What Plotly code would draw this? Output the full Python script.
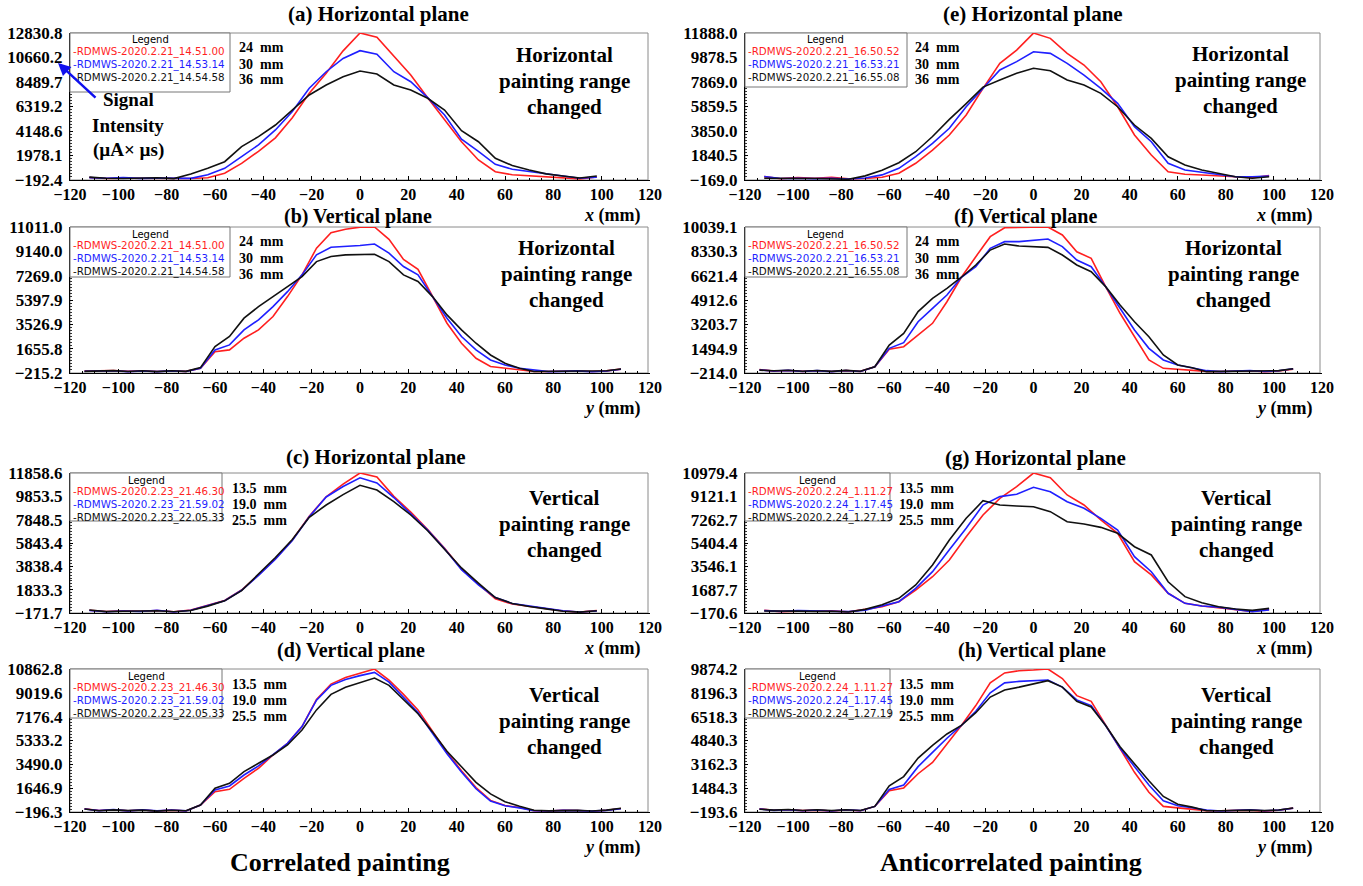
import plotly.graph_objects as go

W, H = 1363, 886

# ---------------- data ----------------
X_H = [-112, -105, -98, -91, -84, -77, -70, -63, -56, -49, -42, -35, -28, -21, -14, -7, 0,
       7, 14, 21, 28, 35, 42, 49, 56, 63, 70, 77, 84, 91, 98]
Y_V = [-114, -108, -102, -96, -90, -84, -78, -72, -66, -60, -54, -48, -42, -36, -30, -24, -18, -12, -6, 0,
       6, 12, 18, 24, 30, 36, 42, 48, 54, 60, 66, 72, 78, 84, 90, 96, 102, 108]

A_RED = [30, -60, -40, -60, -20, -70, -60, 10, 400, 1285, 2350, 3545, 5320, 7490, 9270, 11250, 12830,
         12450, 10750, 9110, 7100, 5100, 3200, 1580, 545, 270, 190, 110, 0, -90, 75]
A_BLUE = [20, -40, 20, -50, -30, -50, -50, 270, 845, 1880, 2920, 4240, 5880, 7940, 9400, 10580, 11263,
          10945, 9400, 8515, 7100, 5566, 3420, 2350, 1200, 757, 545, 370, 135, -30, 50]
A_BLACK = [60, -40, -60, -20, 10, -70, 340, 840, 1430, 2760, 3650, 4680, 6010, 7340, 8225, 8960, 9465,
           9200, 8225, 7780, 7050, 6010, 4175, 3200, 1735, 1085, 700, 350, 160, -20, 160]

B_RED = [-60, -50, -20, -90, -50, -100, -60, -90, 146, 1423, 1560, 2460, 3100, 4125, 5660, 7330, 9380, 10580, 10840, 11000,
         11011, 10060, 8520, 7750, 5660, 3610, 2075, 920, 280, 146, 15, -100, -100, -80, -60, -100, -50, 80]
B_BLUE = [-80, -70, -40, -110, -60, -110, -50, -100, 146, 1560, 1945, 3100, 3870, 4890, 6040, 7330, 8870, 9460, 9510, 9590,
          9700, 9000, 7970, 7330, 5660, 4000, 2590, 1560, 790, 405, 146, 15, -110, -90, -50, -120, -60, 70]
B_BLACK = [-90, -80, -30, -100, -40, -110, -40, -90, 200, 1815, 2590, 4000, 4890, 5660, 6430, 7200, 8350, 8740, 8870, 8870,
           8920, 8350, 7330, 6820, 5660, 4250, 3100, 2075, 1170, 530, 146, -100, -90, -70, -50, -90, -40, 90]

C_RED = [60, -40, 20, -20, 40, -60, 85, 500, 900, 1800, 3100, 4500, 6100, 8150, 9820, 10900, 11858,
         11510, 9850, 8500, 7000, 5400, 3600, 2300, 1050, 600, 400, 200, 0, -100, 30]
C_BLUE = [40, -60, 0, -40, 60, -80, 60, 470, 880, 1780, 3050, 4450, 6050, 8100, 9800, 10700, 11450,
          11000, 9750, 8350, 6950, 5350, 3550, 2250, 1150, 650, 420, 220, 20, -80, 0]
C_BLACK = [80, -50, -20, -30, 20, -60, 40, 420, 870, 1750, 3150, 4600, 6150, 8050, 9110, 10000, 10800,
           10400, 9400, 8250, 6900, 5300, 3700, 2400, 1150, 650, 380, 180, -20, -100, 20]

D_RED = [60, -80, -20, -100, -40, -120, -50, -120, 345, 1374, 1560, 2410, 3185, 4210, 5115, 6410, 8500, 9700, 10200, 10550,
         10862, 10000, 8900, 7700, 6000, 4400, 3000, 1700, 700, 300, 150, -100, -130, -60, -80, -140, -60, 80]
D_BLUE = [40, -90, -10, -110, -30, -110, -40, -110, 345, 1505, 1815, 2665, 3365, 4210, 5115, 6410, 8450, 9600, 10050, 10350,
          10600, 9850, 8700, 7500, 5900, 4300, 2900, 1600, 650, 280, 120, -100, -120, -70, -90, -130, -70, 60]
D_BLACK = [30, -100, -30, -90, -50, -130, -60, -100, 345, 1637, 2025, 2925, 3570, 4210, 4985, 6145, 7700, 8900, 9450, 9780,
           10160, 9600, 8500, 7400, 6000, 4500, 3300, 2100, 1200, 600, 250, -60, -110, -80, -70, -120, -50, 100]

E_RED = [110, -60, 30, -20, 50, -80, -40, 60, 380, 1200, 2290, 3520, 5160, 7350, 9400, 10490, 11880,
         11450, 10220, 9260, 7890, 5840, 3520, 1880, 510, 300, 240, 190, 100, 20, 190]
E_BLUE = [120, -40, -20, -60, -30, -90, -10, 250, 790, 1740, 2840, 4070, 5840, 7350, 8860, 9540, 10350,
          10220, 9400, 8440, 7350, 6120, 4210, 2970, 1200, 650, 460, 320, 100, 100, 150]
E_BLACK = [-30, -60, -50, -40, -70, -110, 170, 640, 1250, 2150, 3400, 4800, 6100, 7450, 8030, 8580, 9000,
           8790, 8030, 7620, 6940, 5840, 4340, 3240, 1740, 1060, 650, 380, 100, -30, 100]

F_RED = [20, -80, -40, -100, -60, -110, -50, -100, 228, 1450, 1630, 2455, 3275, 4790, 6510, 7955, 9360, 9990, 9990, 10000,
         10039, 9480, 8300, 7840, 5850, 3980, 2335, 700, 115, 45, -25, -100, -110, -90, -60, -130, -70, 60]
F_BLUE = [0, -70, -30, -110, -50, -120, -40, -110, 228, 1520, 1915, 3390, 4330, 5265, 6510, 7250, 8540, 9010, 9010, 9130,
          9200, 8660, 7720, 7250, 5850, 4330, 2805, 1520, 700, 350, 160, -50, -120, -80, -40, -110, -60, 80]
F_BLACK = [-10, -60, -20, -90, -40, -100, -30, -90, 228, 1750, 2570, 4100, 5030, 5730, 6510, 7370, 8420, 8840, 8700, 8660,
           8610, 8070, 7370, 6900, 5850, 4560, 3390, 2335, 1050, 350, 160, -120, -110, -90, -60, -100, -50, 90]

G_RED = [40, -60, -30, -40, 0, -80, 100, 330, 730, 1660, 2720, 4050, 5900, 7635, 8960, 9890, 10979,
         10600, 9230, 8430, 7240, 6180, 3920, 2860, 1400, 600, 390, 250, 120, -40, 120]
G_BLUE = [20, -40, 30, 0, 20, -60, 60, 380, 730, 1790, 3120, 4870, 6580, 8430, 9100, 9280, 9840,
          9490, 8690, 8170, 7370, 6440, 4320, 3120, 1400, 600, 390, 300, 120, -60, 80]
G_BLACK = [-10, -40, -20, -40, -30, -90, 120, 480, 1000, 2060, 3650, 5640, 7370, 8770, 8430, 8350, 8290,
           7900, 7100, 6920, 6650, 6180, 5110, 4450, 2320, 1130, 650, 330, 150, 40, 200]

H_RED = [40, -70, -40, -100, -60, -120, -50, -110, 200, 1300, 1500, 2500, 3300, 4600, 5900, 7300, 8900, 9600, 9750, 9800,
         9874, 9200, 8000, 7600, 5900, 4200, 2600, 1200, 200, 100, 0, -100, -110, -90, -60, -130, -70, 80]
H_BLUE = [20, -80, -30, -110, -50, -120, -40, -100, 200, 1400, 1700, 3000, 4000, 5000, 5900, 6900, 8200, 8900, 9000, 9050,
          9100, 8600, 7700, 7300, 5900, 4300, 3000, 1700, 600, 250, 100, -60, -120, -80, -40, -110, -60, 70]
H_BLACK = [0, -60, -20, -90, -40, -100, -30, -90, 200, 1650, 2300, 3600, 4500, 5300, 5900, 6800, 7900, 8400, 8600, 8800,
           9050, 8600, 7600, 7200, 5900, 4400, 3200, 2000, 900, 350, 150, -110, -110, -90, -60, -100, -50, 90]

YT_A = [-192.4, 1978.1, 4148.6, 6319.2, 8489.7, 10660.2, 12830.8]
YT_B = [-215.2, 1655.8, 3526.9, 5397.9, 7269.0, 9140.0, 11011.0]
YT_C = [-171.7, 1833.3, 3838.4, 5843.4, 7848.5, 9853.5, 11858.6]
YT_D = [-196.3, 1646.9, 3490.0, 5333.2, 7176.4, 9019.6, 10862.8]
YT_E = [-169.0, 1840.5, 3850.0, 5859.5, 7869.0, 9878.5, 11888.0]
YT_F = [-214.0, 1494.9, 3203.7, 4912.6, 6621.4, 8330.3, 10039.1]
YT_G = [-170.6, 1687.7, 3546.1, 5404.4, 7262.7, 9121.1, 10979.4]
YT_H = [-193.6, 1484.3, 3162.3, 4840.3, 6518.3, 8196.3, 9874.2]

RUNS_1 = ["RDMWS-2020.2.21_14.51.00", "RDMWS-2020.2.21_14.53.14", "RDMWS-2020.2.21_14.54.58"]
RUNS_2 = ["RDMWS-2020.2.23_21.46.30", "RDMWS-2020.2.23_21.59.02", "RDMWS-2020.2.23_22.05.33"]
RUNS_3 = ["RDMWS-2020.2.21_16.50.52", "RDMWS-2020.2.21_16.53.21", "RDMWS-2020.2.21_16.55.08"]
RUNS_4 = ["RDMWS-2020.2.24_1.11.27", "RDMWS-2020.2.24_1.17.45", "RDMWS-2020.2.24_1.27.19"]
SIZES_HP = ["24", "30", "36"]
SIZES_VP = ["13.5", "19.0", "25.5"]

X_TICKS = [-120, -100, -80, -60, -40, -20, 0, 20, 40, 60, 80, 100, 120]

# ---------------- layout geometry (pixels) ----------------
COLORS = ["#ff1f1f", "#1f1fff", "#111111"]
SERIF = "Liberation Serif, Times New Roman, DejaVu Serif, serif"
SANS = "DejaVu Sans"

panels = [
    dict(t="(a) Horizontal plane", x=X_H, s=(A_RED, A_BLUE, A_BLACK), yt=YT_A, runs=RUNS_1, mm=SIZES_HP, ts=21,
         note="Horizontal", ax="x", box=(70, 650, 33, 180), tpos=(378, 14), lr=230, lb=92, mmx=237, nx=564, ndy=22),
    dict(t="(b) Vertical plane", x=Y_V, s=(B_RED, B_BLUE, B_BLACK), yt=YT_B, runs=RUNS_1, mm=SIZES_HP, ts=20,
         note="Horizontal", ax="y", box=(70, 650, 227, 373), tpos=(358, 216), lr=230, lb=277, mmx=237, nx=566, ndy=21),
    dict(t="(c) Horizontal plane", x=X_H, s=(C_RED, C_BLUE, C_BLACK), yt=YT_C, runs=RUNS_2, mm=SIZES_VP, ts=21,
         note="Vertical", ax="x", box=(70, 650, 473, 613), tpos=(376, 457), lr=222, lb=521, mmx=230, nx=564, ndy=25),
    dict(t="(d) Vertical plane", x=Y_V, s=(D_RED, D_BLUE, D_BLACK), yt=YT_D, runs=RUNS_2, mm=SIZES_VP, ts=20,
         note="Vertical", ax="y", box=(70, 650, 669, 812), tpos=(351, 650), lr=222, lb=718, mmx=230, nx=564, ndy=26),
    dict(t="(e) Horizontal plane", x=X_H, s=(E_RED, E_BLUE, E_BLACK), yt=YT_E, runs=RUNS_3, mm=SIZES_HP, ts=21,
         note="Horizontal", ax="x", box=(745, 1322, 33, 180), tpos=(1033, 14), lr=907, lb=87, mmx=913, nx=1240, ndy=21),
    dict(t="(f) Vertical plane", x=Y_V, s=(F_RED, F_BLUE, F_BLACK), yt=YT_F, runs=RUNS_3, mm=SIZES_HP, ts=20,
         note="Horizontal", ax="y", box=(745, 1322, 227, 373), tpos=(1025, 216), lr=907, lb=277, mmx=913, nx=1233, ndy=21),
    dict(t="(g) Horizontal plane", x=X_H, s=(G_RED, G_BLUE, G_BLACK), yt=YT_G, runs=RUNS_4, mm=SIZES_VP, ts=21,
         note="Vertical", ax="x", box=(745, 1322, 473, 613), tpos=(1035, 458), lr=890, lb=521, mmx=897, nx=1236, ndy=25),
    dict(t="(h) Vertical plane", x=Y_V, s=(H_RED, H_BLUE, H_BLACK), yt=YT_H, runs=RUNS_4, mm=SIZES_VP, ts=20,
         note="Vertical", ax="y", box=(745, 1322, 669, 812), tpos=(1032, 650), lr=890, lb=718, mmx=897, nx=1236, ndy=26),
]


def px(x):
    return x / W


def py(y):
    return 1 - y / H


fig = go.Figure()
annotations = []
shapes = []
layout_axes = {}


def ann(x, y, text, size, family=SERIF, color="black", xanchor="center", yanchor="middle"):
    annotations.append(dict(x=px(x), y=py(y), xref="paper", yref="paper", text=text, showarrow=False,
                            xanchor=xanchor, yanchor=yanchor,
                            font=dict(family=family, size=size, color=color)))


def fmt(v):
    return f"{v:.1f}".replace("-", "\u2212")


for i, p in enumerate(panels, start=1):
    sfx = "" if i == 1 else str(i)
    x0, x1, top, bot = p["box"]
    ymin, ymax = p["yt"][0], p["yt"][-1]
    step = (ymax - ymin) / 6
    for k, ser in enumerate(p["s"]):
        fig.add_trace(go.Scatter(x=p["x"], y=ser, mode="lines", name=p["runs"][k],
                                 line=dict(color=COLORS[k], width=1.6), showlegend=False,
                                 xaxis="x" + sfx, yaxis="y" + sfx))
    layout_axes["xaxis" + sfx] = dict(
        domain=[px(x0), px(x1)], anchor="y" + sfx, range=[-120, 120], automargin=False,
        tickmode="array", tickvals=X_TICKS,
        ticktext=["<b>" + str(v).replace("-", "\u2212") + "</b>" for v in X_TICKS],
        showline=True, linecolor="black", linewidth=1, ticks="inside", ticklen=4, tickcolor="black",
        minor=dict(tickmode="linear", tick0=-120, dtick=5, ticks="inside", ticklen=2, tickcolor="black"),
        showgrid=False, zeroline=False,
        tickfont=dict(family=SERIF, size=16, color="black"))
    layout_axes["yaxis" + sfx] = dict(
        domain=[py(bot), py(top)], anchor="x" + sfx, range=[ymin, ymax], automargin=False,
        tickmode="array", tickvals=p["yt"], ticktext=["<b>" + fmt(v) + "</b>" for v in p["yt"]],
        showline=True, linecolor="black", linewidth=1, ticks="inside", ticklen=3, tickcolor="black",
        minor=dict(tickmode="linear", tick0=ymin, dtick=step / 8, ticks="inside", ticklen=2, tickcolor="#333"),
        showgrid=False, zeroline=False, ticklabelstandoff=3,
        tickfont=dict(family=SERIF, size=17, color="black"))
    # gray frame
    shapes.append(dict(type="rect", xref="paper", yref="paper", x0=px(x0), x1=px(x1 - 2), y0=py(bot), y1=py(top),
                       line=dict(color="#8a8a8a", width=1), layer="below"))
    # legend box
    shapes.append(dict(type="rect", xref="paper", yref="paper", x0=px(x0), x1=px(p["lr"]), y0=py(p["lb"]), y1=py(top),
                       line=dict(color="#777777", width=1), fillcolor="white", layer="above"))
    ann((x0 + p["lr"]) / 2, top + 7, "Legend", 10, family=SANS)
    for k in range(3):
        ann(x0 + 0.5, top + 18 + 13 * k, "-" + p["runs"][k], 10.3, family=SANS, color=COLORS[k], xanchor="left")
        ann(p["mmx"], top + 15 + 16 * k, "<b>" + p["mm"][k] + "  mm</b>", 14, xanchor="left")
    # note
    ann(p["nx"], top + p["ndy"], "<b>" + p["note"] + "</b>", 21)
    ann(p["nx"], top + p["ndy"] + 26, "<b>painting range</b>", 21)
    ann(p["nx"], top + p["ndy"] + 52, "<b>changed</b>", 21)
    # title
    ann(p["tpos"][0], p["tpos"][1], "<b>" + p["t"] + "</b>", p["ts"])
    # axis label
    ann(x1 - 8, bot + 35, "<b><i>" + p["ax"] + "</i> (mm)</b>", 18, xanchor="right")

# signal intensity label
ann(128, 100, "<b>Signal</b>", 19)
ann(128, 125, "<b>Intensity</b>", 19)
ann(128, 150, "<b>(\u00b5A\u00d7 \u00b5s)</b>", 19)
annotations.append(dict(x=px(58), y=py(63), ax=39, ay=36, xref="paper", yref="paper",
                        axref="pixel", ayref="pixel", text="", showarrow=True, arrowhead=2,
                        arrowsize=1, arrowwidth=2.5, arrowcolor="#1010ee"))

ann(340, 862, "<b>Correlated painting</b>", 26)
ann(1011, 862, "<b>Anticorrelated painting</b>", 26)

fig.update_layout(template="none", width=W, height=H, autosize=False, margin=dict(l=0, r=0, t=0, b=0, pad=0),
                  paper_bgcolor="white", plot_bgcolor="white", showlegend=False,
                  annotations=annotations, shapes=shapes, **layout_axes)

fig.write_html("out.html")
